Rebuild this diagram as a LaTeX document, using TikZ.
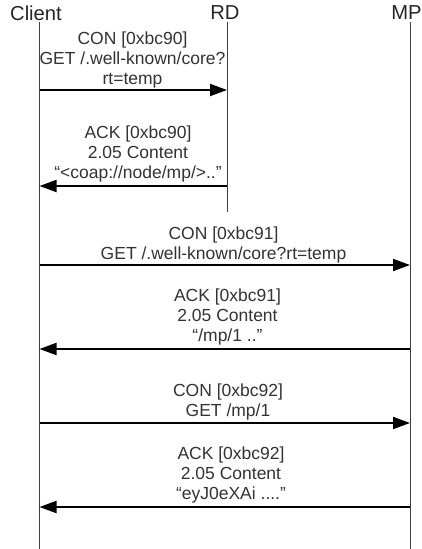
\documentclass[tikz,border=0pt]{standalone}
\usepackage{fontspec}
\setmainfont{Liberation Sans}
\usetikzlibrary{arrows.meta}
\begin{document}
\begin{tikzpicture}[x=1pt,y=-1pt,
  actor/.style={font=\fontsize{20.2}{22}\selectfont, text=black!85, inner sep=0pt},
  lifeline/.style={draw=black!75, line width=0.9pt},
  msg/.style={draw=black, line width=2pt, -{Triangle[length=17pt,width=12pt]}},
  lbl/.style={font=\fontsize{17.5}{20}\selectfont, text=black!80, align=center, inner sep=0pt}]
\useasboundingbox[fill=white] (0,0) rectangle (421,549);
% actors
\node[actor] (client) at (36,13) {Client};
\node[actor] (rd) at (225,13) {RD};
\node[actor] (mp) at (406.5,13) {MP};
% lifeline ends
\coordinate (cTop) at (39.5,22);
\coordinate (cBot) at (39.5,549);
\coordinate (rTop) at (227,22);
\coordinate (rBot) at (227,212);
\coordinate (mTop) at (410,22);
\coordinate (mBot) at (410,549);
\draw[lifeline] (cTop) -- (cBot);
\draw[lifeline] (rTop) -- (rBot);
\draw[lifeline] (mTop) -- (mBot);
% message anchors
\coordinate (c1) at (39.5,90);   \coordinate (r1) at (227,90);
\coordinate (c2) at (39.5,186);  \coordinate (r2) at (227,186);
\coordinate (c3) at (39.5,265);  \coordinate (m3) at (410,265);
\coordinate (c4) at (39.5,349);  \coordinate (m4) at (410,349);
\coordinate (c5) at (39.5,423);  \coordinate (m5) at (410,423);
\coordinate (c6) at (39.5,507);  \coordinate (m6) at (410,507);
\draw[msg] (c1) -- (r1);
\draw[msg] (r2) -- (c2);
\draw[msg] (c3) -- (m3);
\draw[msg] (m4) -- (c4);
\draw[msg] (c5) -- (m5);
\draw[msg] (m6) -- (c6);
% labels
\node[lbl] (l1) at (132.5,59.5) {CON [0xbc90]\\GET /.well-known/core?\\rt=temp};
\node[lbl] (l2) at (138,153.5) {ACK [0xbc90]\\2.05 Content\\“<coap://node/mp/>..”};
\node[lbl] (l3) at (223.5,244.5) {CON [0xbc91]\\GET /.well-known/core?rt=temp};
\node[lbl] (l4) at (227.5,317) {ACK [0xbc91]\\2.05 Content\\“/mp/1 ..”};
\node[lbl] (l5) at (228,401.5) {CON [0xbc92]\\GET /mp/1};
\node[lbl] (l6) at (231,475) {ACK [0xbc92]\\2.05 Content\\“eyJ0eXAi ....”};
\end{tikzpicture}
\end{document}
